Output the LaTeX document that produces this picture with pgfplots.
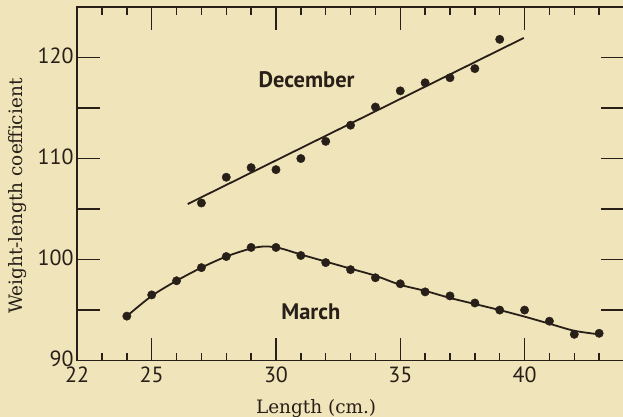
\documentclass[border=0pt]{standalone}
\usepackage{pgfplots}
\pgfplotsset{compat=1.18}
\usepackage{fontspec}
\setmainfont{DejaVu Serif}
\newfontfamily\tickfont{PT Sans}
\definecolor{bg}{RGB}{239,228,186}
\definecolor{ink}{RGB}{40,32,24}
\begin{document}
\begin{tikzpicture}
\fill[bg] (-77bp,-56bp) rectangle (545bp,360bp);
\begin{axis}[
 width=546bp, height=353bp, scale only axis,
 xmin=22, xmax=44, ymin=90, ymax=125,
 axis line style={ink, line width=1.8bp},
 every tick/.style={ink, line width=1.5bp},
 xtick={22,25,30,35,40}, xticklabels={22,25,30,35,40},
 minor xtick={23,24,...,44},
 ytick={90,95,...,125}, yticklabels={90,,100,,110,,120,},
 major tick length=23bp, minor tick length=8bp,
 tick align=inside,
 ticklabel style={font={\tickfont\fontsize{22}{22}\selectfont}, text=ink},
 xticklabel style={yshift=-3bp},
 yticklabel style={yshift=1.5bp},
 xlabel={Length (cm.)}, ylabel={Weight-length coefficient},
 label style={font={\fontsize{18.5}{18.5}\selectfont}, text=ink},
 xlabel style={at={(axis description cs:0.437,0)}, anchor=base, yshift=-53bp},
 ylabel style={at={(axis description cs:-0.1007,0.465)}, anchor=base},
 clip=false,
]
\addplot[ink, line width=1.8bp] coordinates {(26.45,105.5) (39.97,121.94)};
\addplot[ink, only marks, mark=*, mark size=4.2bp] coordinates {
(27,105.6) (28,108.15) (29,109.1) (30,108.9) (31,110.0) (32,111.7) (33,113.3)
(34,115.1) (35,116.7) (36,117.5) (37,118.0) (38,118.9) (39,121.8)};
\addplot[ink, line width=1.8bp, smooth, tension=0.5] coordinates {
(24,94.4) (25,96.4) (26,97.9) (27,99.2) (28,100.3) (29,101.1) (29.6,101.3) (30.2,101.1)
(31,100.5) (32,99.8) (33,99.1) (34,98.4) (35,97.5) (36,96.9) (37,96.2) (38,95.6)
(39,95.0) (40,94.35) (41,93.65) (42,92.95) (43,92.6)};
\addplot[ink, only marks, mark=*, mark size=4.2bp] coordinates {
(24,94.4) (25,96.5) (26,97.9) (27,99.2) (28,100.3) (29,101.2) (30,101.2) (31,100.4)
(32,99.7) (33,99.0) (34,98.2) (35,97.6) (36,96.8) (37,96.4) (38,95.7) (39,95.0)
(40,95.0) (41,93.9) (42,92.6) (43,92.7)};
\node[font={\tickfont\bfseries\fontsize{22.5}{22.5}\selectfont}, text=ink] at (axis cs:31.23,117.8) {December};
\node[font={\tickfont\bfseries\fontsize{22.5}{22.5}\selectfont}, text=ink] at (axis cs:31.4,94.8) {March};
\end{axis}
\pgfresetboundingbox
\path[use as bounding box] (-77bp,-56bp) rectangle (545bp,360bp);
\end{tikzpicture}
\end{document}
